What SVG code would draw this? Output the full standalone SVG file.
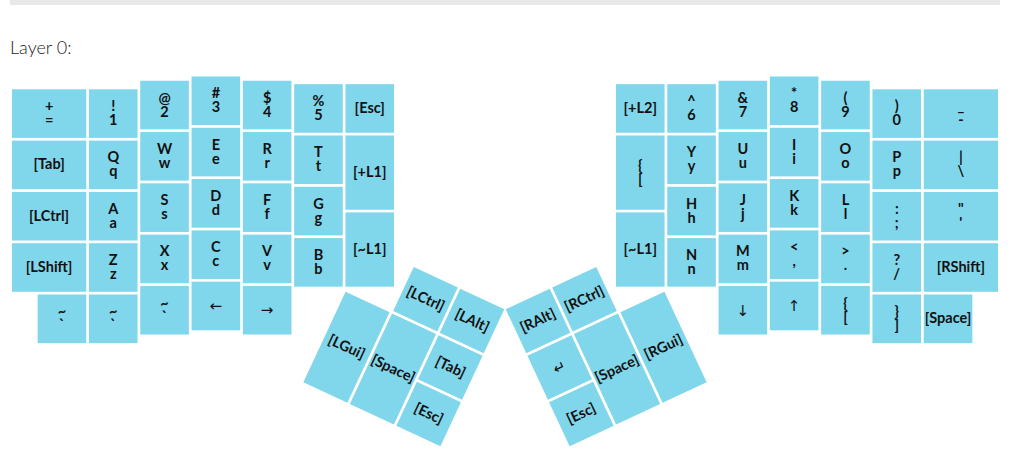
<svg xmlns="http://www.w3.org/2000/svg" width="1017" height="460" viewBox="0 0 1017 460">
<style>
.k{fill:#80d6ea}
text{font-family:Lato,"Liberation Sans",sans-serif;font-size:14.5px;font-weight:700;fill:#111;text-anchor:middle}
.ar{font-family:"DejaVu Sans",sans-serif;font-weight:400;font-size:15px}
.title{font-family:Lato,"Liberation Sans",sans-serif;font-weight:300;font-size:18px;text-anchor:start;fill:#222}
</style>
<rect x="10" y="0" width="990" height="5" fill="#e8e8e8"/>
<text class="title" x="10" y="54">Layer 0:</text>
<g id="left-main">
<g id="k-eq"><rect class="k" x="12" y="89.3" width="74.25" height="48.6"/><text x="49.1" y="111.1">+<tspan x="49.1" dy="14">=</tspan></text></g>
<g id="k-tab"><rect class="k" x="12" y="140.6" width="74.25" height="48.6"/><text x="49.1" y="169.4">[Tab]</text></g>
<g id="k-lctrl"><rect class="k" x="12" y="191.9" width="74.25" height="48.6"/><text x="49.1" y="220.7">[LCtrl]</text></g>
<g id="k-lshift"><rect class="k" x="12" y="243.2" width="74.25" height="48.6"/><text x="49.1" y="272">[LShift]</text></g>
<g id="k-grv1"><rect class="k" x="37.65" y="294.5" width="48.6" height="48.6"/><text x="61.95" y="316.3">~<tspan x="61.95" dy="14">`</tspan></text></g>
<g id="k-1"><rect class="k" x="88.95" y="89.3" width="48.6" height="48.6"/><text x="113.25" y="111.1">!<tspan x="113.25" dy="14">1</tspan></text></g>
<g id="k-q"><rect class="k" x="88.95" y="140.6" width="48.6" height="48.6"/><text x="113.25" y="162.4">Q<tspan x="113.25" dy="14">q</tspan></text></g>
<g id="k-a"><rect class="k" x="88.95" y="191.9" width="48.6" height="48.6"/><text x="113.25" y="213.7">A<tspan x="113.25" dy="14">a</tspan></text></g>
<g id="k-z"><rect class="k" x="88.95" y="243.2" width="48.6" height="48.6"/><text x="113.25" y="265">Z<tspan x="113.25" dy="14">z</tspan></text></g>
<g id="k-grv2"><rect class="k" x="88.95" y="294.5" width="48.6" height="48.6"/><text x="113.25" y="316.3">~<tspan x="113.25" dy="14">`</tspan></text></g>
<g id="k-2"><rect class="k" x="140.25" y="80.73" width="48.6" height="48.6"/><text x="164.55" y="102.5">@<tspan x="164.55" dy="14">2</tspan></text></g>
<g id="k-w"><rect class="k" x="140.25" y="132.03" width="48.6" height="48.6"/><text x="164.55" y="153.8">W<tspan x="164.55" dy="14">w</tspan></text></g>
<g id="k-s"><rect class="k" x="140.25" y="183.33" width="48.6" height="48.6"/><text x="164.55" y="205.1">S<tspan x="164.55" dy="14">s</tspan></text></g>
<g id="k-x"><rect class="k" x="140.25" y="234.63" width="48.6" height="48.6"/><text x="164.55" y="256.4">X<tspan x="164.55" dy="14">x</tspan></text></g>
<g id="k-grv3"><rect class="k" x="140.25" y="285.93" width="48.6" height="48.6"/><text x="164.55" y="307.7">~<tspan x="164.55" dy="14">`</tspan></text></g>
<g id="k-3"><rect class="k" x="191.55" y="76.48" width="48.6" height="48.6"/><text x="215.85" y="98.3">#<tspan x="215.85" dy="14">3</tspan></text></g>
<g id="k-e"><rect class="k" x="191.55" y="127.78" width="48.6" height="48.6"/><text x="215.85" y="149.6">E<tspan x="215.85" dy="14">e</tspan></text></g>
<g id="k-d"><rect class="k" x="191.55" y="179.08" width="48.6" height="48.6"/><text x="215.85" y="200.9">D<tspan x="215.85" dy="14">d</tspan></text></g>
<g id="k-c"><rect class="k" x="191.55" y="230.38" width="48.6" height="48.6"/><text x="215.85" y="252.2">C<tspan x="215.85" dy="14">c</tspan></text></g>
<g id="k-left"><rect class="k" x="191.55" y="281.68" width="48.6" height="48.6"/><text class="ar" x="215.85" y="310.5">←</text></g>
<g id="k-4"><rect class="k" x="242.85" y="80.73" width="48.6" height="48.6"/><text x="267.15" y="102.5">$<tspan x="267.15" dy="14">4</tspan></text></g>
<g id="k-r"><rect class="k" x="242.85" y="132.03" width="48.6" height="48.6"/><text x="267.15" y="153.8">R<tspan x="267.15" dy="14">r</tspan></text></g>
<g id="k-f"><rect class="k" x="242.85" y="183.33" width="48.6" height="48.6"/><text x="267.15" y="205.1">F<tspan x="267.15" dy="14">f</tspan></text></g>
<g id="k-v"><rect class="k" x="242.85" y="234.63" width="48.6" height="48.6"/><text x="267.15" y="256.4">V<tspan x="267.15" dy="14">v</tspan></text></g>
<g id="k-right"><rect class="k" x="242.85" y="285.93" width="48.6" height="48.6"/><text class="ar" x="267.15" y="314.8">→</text></g>
<g id="k-5"><rect class="k" x="294.15" y="84.17" width="48.6" height="48.6"/><text x="318.45" y="106">%<tspan x="318.45" dy="14">5</tspan></text></g>
<g id="k-t"><rect class="k" x="294.15" y="135.47" width="48.6" height="48.6"/><text x="318.45" y="157.3">T<tspan x="318.45" dy="14">t</tspan></text></g>
<g id="k-g"><rect class="k" x="294.15" y="186.77" width="48.6" height="48.6"/><text x="318.45" y="208.6">G<tspan x="318.45" dy="14">g</tspan></text></g>
<g id="k-b"><rect class="k" x="294.15" y="238.07" width="48.6" height="48.6"/><text x="318.45" y="259.9">B<tspan x="318.45" dy="14">b</tspan></text></g>
<g id="k-esc-l"><rect class="k" x="345.45" y="84.17" width="48.6" height="48.6"/><text x="369.75" y="113">[Esc]</text></g>
<g id="k-pl1-l"><rect class="k" x="345.45" y="135.47" width="48.6" height="74.25"/><text x="369.75" y="177.1">[+L1]</text></g>
<g id="k-tl1-l"><rect class="k" x="345.45" y="212.42" width="48.6" height="74.25"/><text x="369.75" y="254">[~L1]</text></g>
</g>
<g id="right-main">
<g id="k-pl2"><rect class="k" x="615.95" y="84.17" width="48.6" height="48.6"/><text x="640.25" y="113">[+L2]</text></g>
<g id="k-lbr-r"><rect class="k" x="615.95" y="135.47" width="48.6" height="74.25"/><text x="640.25" y="170.1">{<tspan x="640.25" dy="14">[</tspan></text></g>
<g id="k-tl1-r"><rect class="k" x="615.95" y="212.42" width="48.6" height="74.25"/><text x="640.25" y="254">[~L1]</text></g>
<g id="k-6"><rect class="k" x="667.25" y="84.17" width="48.6" height="48.6"/><text x="691.55" y="106">^<tspan x="691.55" dy="14">6</tspan></text></g>
<g id="k-y"><rect class="k" x="667.25" y="135.47" width="48.6" height="48.6"/><text x="691.55" y="157.3">Y<tspan x="691.55" dy="14">y</tspan></text></g>
<g id="k-h"><rect class="k" x="667.25" y="186.77" width="48.6" height="48.6"/><text x="691.55" y="208.6">H<tspan x="691.55" dy="14">h</tspan></text></g>
<g id="k-n"><rect class="k" x="667.25" y="238.07" width="48.6" height="48.6"/><text x="691.55" y="259.9">N<tspan x="691.55" dy="14">n</tspan></text></g>
<g id="k-7"><rect class="k" x="718.55" y="80.73" width="48.6" height="48.6"/><text x="742.85" y="102.5">&amp;<tspan x="742.85" dy="14">7</tspan></text></g>
<g id="k-u"><rect class="k" x="718.55" y="132.03" width="48.6" height="48.6"/><text x="742.85" y="153.8">U<tspan x="742.85" dy="14">u</tspan></text></g>
<g id="k-j"><rect class="k" x="718.55" y="183.33" width="48.6" height="48.6"/><text x="742.85" y="205.1">J<tspan x="742.85" dy="14">j</tspan></text></g>
<g id="k-m"><rect class="k" x="718.55" y="234.63" width="48.6" height="48.6"/><text x="742.85" y="256.4">M<tspan x="742.85" dy="14">m</tspan></text></g>
<g id="k-down"><rect class="k" x="718.55" y="285.93" width="48.6" height="48.6"/><text class="ar" x="742.85" y="315.5">↓</text></g>
<g id="k-8"><rect class="k" x="769.85" y="76.48" width="48.6" height="48.6"/><text x="794.15" y="98.3">*<tspan x="794.15" dy="14">8</tspan></text></g>
<g id="k-i"><rect class="k" x="769.85" y="127.78" width="48.6" height="48.6"/><text x="794.15" y="149.6">I<tspan x="794.15" dy="14">i</tspan></text></g>
<g id="k-k"><rect class="k" x="769.85" y="179.08" width="48.6" height="48.6"/><text x="794.15" y="200.9">K<tspan x="794.15" dy="14">k</tspan></text></g>
<g id="k-comma"><rect class="k" x="769.85" y="230.38" width="48.6" height="48.6"/><text x="794.15" y="252.2">&lt;<tspan x="794.15" dy="14">,</tspan></text></g>
<g id="k-up"><rect class="k" x="769.85" y="281.68" width="48.6" height="48.6"/><text class="ar" x="794.15" y="311.3">↑</text></g>
<g id="k-9"><rect class="k" x="821.15" y="80.73" width="48.6" height="48.6"/><text x="845.45" y="102.5">(<tspan x="845.45" dy="14">9</tspan></text></g>
<g id="k-o"><rect class="k" x="821.15" y="132.03" width="48.6" height="48.6"/><text x="845.45" y="153.8">O<tspan x="845.45" dy="14">o</tspan></text></g>
<g id="k-l"><rect class="k" x="821.15" y="183.33" width="48.6" height="48.6"/><text x="845.45" y="205.1">L<tspan x="845.45" dy="14">l</tspan></text></g>
<g id="k-dot"><rect class="k" x="821.15" y="234.63" width="48.6" height="48.6"/><text x="845.45" y="256.4">&gt;<tspan x="845.45" dy="14">.</tspan></text></g>
<g id="k-lbr-b"><rect class="k" x="821.15" y="285.93" width="48.6" height="48.6"/><text x="845.45" y="307.7">{<tspan x="845.45" dy="14">[</tspan></text></g>
<g id="k-0"><rect class="k" x="872.45" y="89.3" width="48.6" height="48.6"/><text x="896.75" y="111.1">)<tspan x="896.75" dy="14">0</tspan></text></g>
<g id="k-p"><rect class="k" x="872.45" y="140.6" width="48.6" height="48.6"/><text x="896.75" y="162.4">P<tspan x="896.75" dy="14">p</tspan></text></g>
<g id="k-semi"><rect class="k" x="872.45" y="191.9" width="48.6" height="48.6"/><text x="896.75" y="213.7">:<tspan x="896.75" dy="14">;</tspan></text></g>
<g id="k-slash"><rect class="k" x="872.45" y="243.2" width="48.6" height="48.6"/><text x="896.75" y="265">?<tspan x="896.75" dy="14">/</tspan></text></g>
<g id="k-rbr"><rect class="k" x="872.45" y="294.5" width="48.6" height="48.6"/><text x="896.75" y="316.3">}<tspan x="896.75" dy="14">]</tspan></text></g>
<g id="k-minus"><rect class="k" x="923.75" y="89.3" width="74.25" height="48.6"/><text x="960.9" y="111.1">_<tspan x="960.9" dy="14">-</tspan></text></g>
<g id="k-bslash"><rect class="k" x="923.75" y="140.6" width="74.25" height="48.6"/><text x="960.9" y="162.4">|<tspan x="960.9" dy="14">\</tspan></text></g>
<g id="k-quote"><rect class="k" x="923.75" y="191.9" width="74.25" height="48.6"/><text x="960.9" y="213.7">"<tspan x="960.9" dy="14">'</tspan></text></g>
<g id="k-rshift"><rect class="k" x="923.75" y="243.2" width="74.25" height="48.6"/><text x="960.9" y="272">[RShift]</text></g>
<g id="k-space-r1"><rect class="k" x="923.75" y="294.5" width="48.6" height="48.6"/><text x="948.05" y="323.3">[Space]</text></g>
</g>
<g id="left-thumb" transform="translate(366.6 243.5) rotate(25)">
<g id="k-lctrl-t"><rect class="k" x="52.65" y="1.35" width="48.6" height="48.6"/><text x="76.95" y="30.15">[LCtrl]</text></g>
<g id="k-lalt"><rect class="k" x="103.95" y="1.35" width="48.6" height="48.6"/><text x="128.25" y="30.15">[LAlt]</text></g>
<g id="k-lgui"><rect class="k" x="1.35" y="52.65" width="48.6" height="99.9"/><text x="25.65" y="107.1">[LGui]</text></g>
<g id="k-space-l"><rect class="k" x="52.65" y="52.65" width="48.6" height="99.9"/><text x="76.95" y="107.1">[Space]</text></g>
<g id="k-tab-t"><rect class="k" x="103.95" y="52.65" width="48.6" height="48.6"/><text x="128.25" y="81.45">[Tab]</text></g>
<g id="k-esc-t"><rect class="k" x="103.95" y="103.95" width="48.6" height="48.6"/><text x="128.25" y="132.75">[Esc]</text></g>
</g>
<g id="right-thumb" transform="translate(503.92 308.54) rotate(-25)">
<g id="k-ralt"><rect class="k" x="1.35" y="1.35" width="48.6" height="48.6"/><text x="25.65" y="30.15">[RAlt]</text></g>
<g id="k-rctrl"><rect class="k" x="52.65" y="1.35" width="48.6" height="48.6"/><text x="76.95" y="30.15">[RCtrl]</text></g>
<g id="k-enter"><rect class="k" x="1.35" y="52.65" width="48.6" height="48.6"/><text class="ar" x="25.65" y="82">↵</text></g>
<g id="k-space-r"><rect class="k" x="52.65" y="52.65" width="48.6" height="99.9"/><text x="76.95" y="107.1">[Space]</text></g>
<g id="k-rgui"><rect class="k" x="103.95" y="52.65" width="48.6" height="99.9"/><text x="128.25" y="107.1">[RGui]</text></g>
<g id="k-esc-rt"><rect class="k" x="1.35" y="103.95" width="48.6" height="48.6"/><text x="25.65" y="132.75">[Esc]</text></g>
</g>
<g id="connectors"/>
</svg>
